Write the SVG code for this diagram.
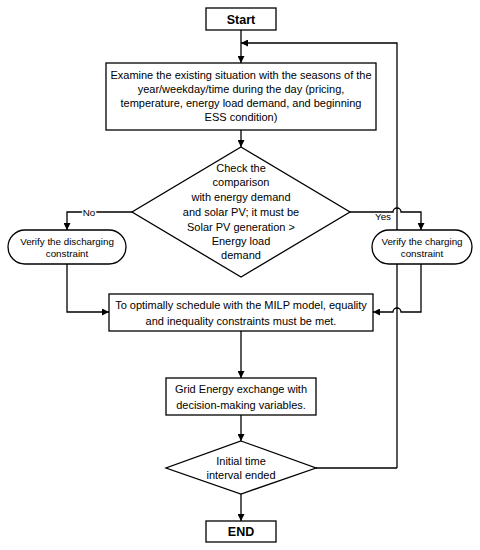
<svg xmlns="http://www.w3.org/2000/svg" width="480" height="550" viewBox="0 0 480 550">
<style>
.box{fill:#fff;stroke:#000;stroke-width:1.3}
.ln{fill:none;stroke:#000;stroke-width:1.3}
text{font-family:"Liberation Sans",Arial,sans-serif;font-size:11px;fill:#000;text-anchor:middle}
.sm{font-size:9.8px}
.b{font-weight:bold;font-size:12.5px}
</style>
<defs>
<marker id="ah" viewBox="0 0 10 10" refX="10" refY="5" markerWidth="7" markerHeight="7" markerUnits="userSpaceOnUse" orient="auto">
<path d="M0,0 L10,5 L0,10 z" fill="#000"/>
</marker>
</defs>
<rect width="480" height="550" fill="#fff"/>
<g id="connectors">
<path class="ln" d="M241,30 V63" marker-end="url(#ah)"/>
<path class="ln" d="M397,468 V43 H241" marker-end="url(#ah)"/>
<path class="ln" d="M241,130 V147" marker-end="url(#ah)"/>
<path class="ln" d="M132,212 H67 V230" marker-end="url(#ah)"/>
<path class="ln" d="M350,212 H393 A4,4 0 0 1 401,212 H421 V230" marker-end="url(#ah)"/>
<path class="ln" d="M67,264 V312 H109" marker-end="url(#ah)"/>
<path class="ln" d="M421,264 V312 H401 A4,4 0 0 0 393,312 H373" marker-end="url(#ah)"/>
<path class="ln" d="M241,331 V378" marker-end="url(#ah)"/>
<path class="ln" d="M241,415 V441" marker-end="url(#ah)"/>
<path class="ln" d="M316,468 H397"/>
<path class="ln" d="M241,494 V521" marker-end="url(#ah)"/>
<text x="89" y="215.5" class="sm" style="paint-order:stroke" stroke="#fff" stroke-width="3">No</text>
<text x="383" y="220" class="sm">Yes</text>
</g>
<g id="start">
<rect class="box" x="206" y="8" width="70" height="22"/>
<text x="241" y="23.5" class="b">Start</text>
</g>
<g id="examine">
<rect class="box" x="106" y="63" width="270" height="67"/>
<text x="241" y="79">Examine the existing situation with the seasons of the</text>
<text x="241" y="93">year/weekday/time during the day (pricing,</text>
<text x="241" y="107">temperature, energy load demand, and beginning</text>
<text x="241" y="121">ESS condition)</text>
</g>
<g id="check">
<polygon class="box" points="241,147 350,212 241,277 132,212"/>
<text x="241" y="172">Check the</text>
<text x="241" y="186">comparison</text>
<text x="241" y="201">with energy demand</text>
<text x="241" y="216">and solar PV; it must be</text>
<text x="241" y="231">Solar PV generation &gt;</text>
<text x="241" y="245">Energy load</text>
<text x="241" y="259">demand</text>
</g>
<g id="discharge">
<rect class="box" x="8" y="230" width="118" height="34" rx="17"/>
<text x="67" y="244.5" class="sm">Verify the discharging</text>
<text x="67" y="257" class="sm">constraint</text>
</g>
<g id="charge">
<rect class="box" x="372" y="230" width="100" height="34" rx="17"/>
<text x="422" y="244.5" class="sm">Verify the charging</text>
<text x="422" y="257" class="sm">constraint</text>
</g>
<g id="schedule">
<rect class="box" x="109" y="294" width="264" height="37"/>
<text x="241" y="309">To optimally schedule with the MILP model, equality</text>
<text x="241" y="325">and inequality constraints must be met.</text>
</g>
<g id="grid">
<rect class="box" x="166" y="378" width="150" height="37"/>
<text x="241" y="393">Grid Energy exchange with</text>
<text x="241" y="409">decision-making variables.</text>
</g>
<g id="interval">
<polygon class="box" points="241,441 316,468 241,494 166,468"/>
<text x="241" y="464.5">Initial time</text>
<text x="241" y="479">interval ended</text>
</g>
<g id="end">
<rect class="box" x="206" y="521" width="70" height="21"/>
<text x="241" y="536" class="b">END</text>
</g>
</svg>
